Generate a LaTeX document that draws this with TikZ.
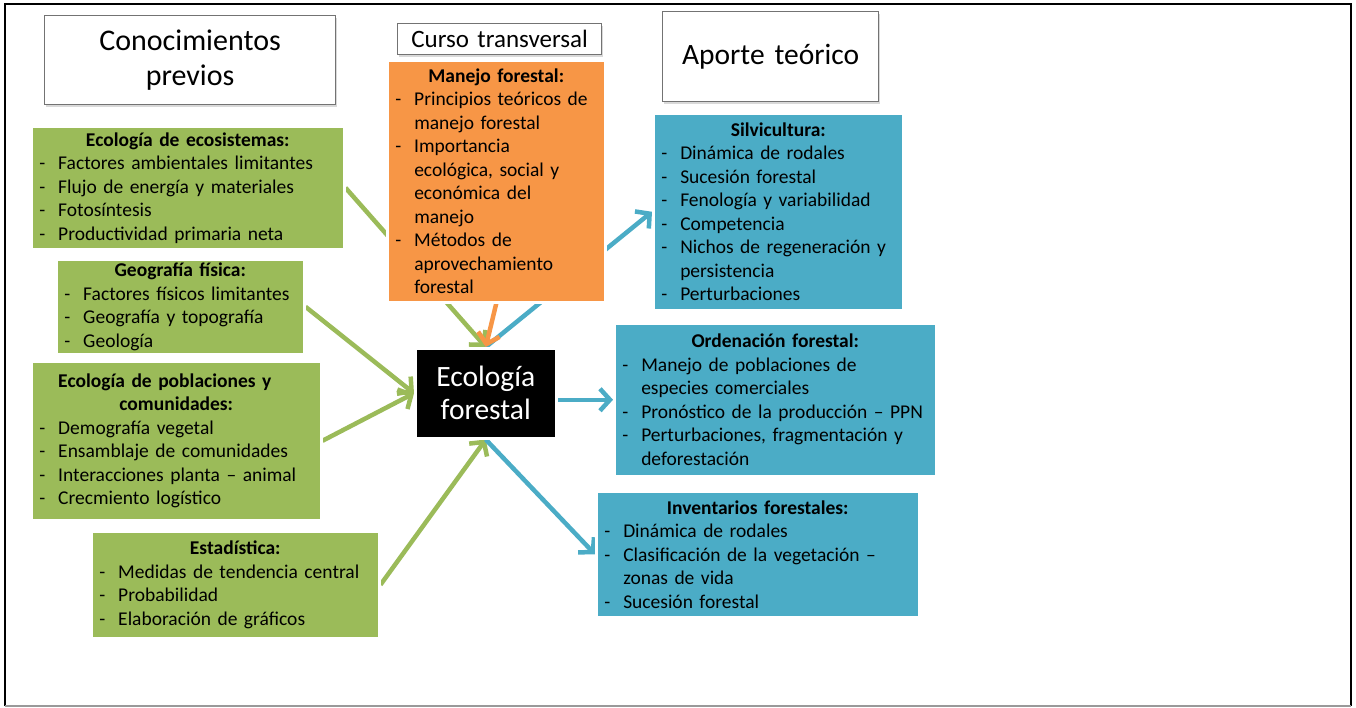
\documentclass[tikz,border=0pt]{standalone}
\usepackage{fontspec}
\setmainfont{Carlito}
\usetikzlibrary{arrows.meta, shadows, backgrounds}
\definecolor{leaf}{HTML}{9BBB59}
\definecolor{bark}{HTML}{F79646}
\definecolor{water}{HTML}{4BACC6}
\newcommand{\hd}[1]{{\centering\textbf{#1}\par}}
\newcommand{\itm}[1]{\par\noindent\hangindent=23pt\hangafter=1\makebox[23pt][l]{\hspace{4pt}-}#1\par}

\begin{document}
\begin{tikzpicture}[x=1pt, y=-1pt,
  box/.style={anchor=north west, draw=white, line width=2.5pt, align=left,
    inner xsep=4pt, inner ysep=2pt, font=\fontsize{19.5pt}{23.5pt}\selectfont,
    drop shadow={shadow xshift=1.5pt, shadow yshift=-2pt, opacity=0.3}},
  greenbox/.style={box, fill=leaf},
  bluebox/.style={box, fill=water},
  orangebox/.style={box, fill=bark},
  headbox/.style={anchor=north west, draw=black!55, line width=1.2pt, fill=white, align=center,
    inner sep=0pt, drop shadow={shadow xshift=1.5pt, shadow yshift=-2pt, opacity=0.3}},
  greenarrow/.style={draw=leaf, line width=4.5pt, -{Straight Barb[length=10pt, width=22pt]}},
  bluearrow/.style={greenarrow, draw=water},
  orangearrow/.style={greenarrow, draw=bark}]
\useasboundingbox (0,0) rectangle (1356,707);
\draw[line width=2.5pt] (5,706) -- (5,4) -- (1351,4) -- (1351,706);
\draw[line width=2pt, black!40] (5,706) -- (1351,706);

\node[headbox, text width=291pt, minimum height=89pt, font=\fontsize{30pt}{35pt}\selectfont] (prev) at (44,15) {Conocimientos\\previos};
\node[headbox, text width=204pt, minimum height=31pt, font=\fontsize{25pt}{28pt}\selectfont] (curso) at (397,23) {Curso transversal};
\node[headbox, text width=216pt, minimum height=90pt, font=\fontsize{29.5pt}{35pt}\selectfont] (aporte) at (662,11) {Aporte teórico};

\node[greenbox, text width=305pt, minimum height=123pt] (eco) at (30,125) {\hd{Ecología de ecosistemas:}
  \itm{Factores ambientales limitantes}
  \itm{Flujo de energía y materiales}
  \itm{Fotosíntesis}
  \itm{Productividad primaria neta}};
\node[greenbox, text width=240pt, minimum height=95pt] (geo) at (55,258) {\hd{Geografía física:}
  \itm{Factores físicos limitantes}
  \itm{Geografía y topografía}
  \itm{Geología}};
\node[greenbox, text width=282pt, minimum height=159pt] (pob) at (30,360) {\hd{Ecología de poblaciones y\newline comunidades:}
  \itm{Demografía vegetal}
  \itm{Ensamblaje de comunidades}
  \itm{Interacciones planta – animal}
  \itm{Crecmiento logístico}};
\node[greenbox, text width=280pt, minimum height=107pt] (est) at (90,530) {\hd{Estadística:}
  \itm{Medidas de tendencia central}
  \itm{Probabilidad}
  \itm{Elaboración de gráficos}};

\node[orangebox, text width=210pt, minimum height=242pt] (manejo) at (386,59) {\hd{Manejo forestal:}
  \itm{Principios teóricos de\newline manejo forestal}
  \itm{Importancia\newline ecológica, social y\newline económica del\newline manejo}
  \itm{Métodos de\newline aprovechamiento\newline forestal}};

\node[anchor=north west, fill=black, draw=white, line width=2.5pt, text=white, align=center,
  text width=133pt, minimum height=90pt, inner xsep=4pt, font=\fontsize{29.5pt}{33pt}\selectfont,
  drop shadow={shadow xshift=1.5pt, shadow yshift=-2pt, opacity=0.3}] (ef) at (414,347) {Ecología\\forestal};

\node[bluebox, text width=242pt, minimum height=197pt] (silv) at (652,112) {\hd{Silvicultura:}
  \itm{Dinámica de rodales}
  \itm{Sucesión forestal}
  \itm{Fenología y variabilidad}
  \itm{Competencia}
  \itm{Nichos de regeneración y\newline persistencia}
  \itm{Perturbaciones}};
\node[bluebox, text width=314pt, minimum height=153pt] (orden) at (613,322) {\hd{Ordenación forestal:}
  \itm{Manejo de poblaciones de\newline especies comerciales}
  \itm{Pronóstico de la producción – PPN}
  \itm{Perturbaciones, fragmentación y\newline deforestación}};
\node[bluebox, text width=315pt, minimum height=126pt] (inv) at (595,490) {\hd{Inventarios forestales:}
  \itm{Dinámica de rodales}
  \itm{Clasificación de la vegetación –\newline zonas de vida}
  \itm{Sucesión forestal}};

\begin{pgfonlayer}{background}
\foreach \src/\dst in {eco/north, geo/west, pob/west, est/south}
  \draw[greenarrow] (\src.east) -- (ef.\dst);
\foreach \dst/\from in {silv/north, inv/south}
  \draw[bluearrow] (ef.\from) -- (\dst.west);
\draw[bluearrow] (ef.east |- orden.west) -- (orden.west);
\draw[orangearrow] (manejo.south) -- (ef.north);
\end{pgfonlayer}
\end{tikzpicture}
\end{document}
